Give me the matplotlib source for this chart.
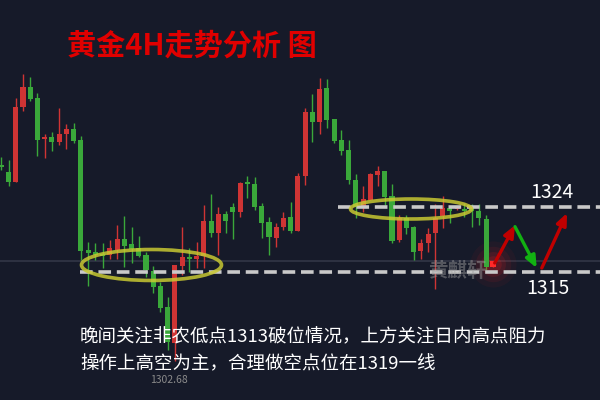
import numpy as np
import matplotlib
matplotlib.use('Agg')
import matplotlib.pyplot as plt
from matplotlib.patches import Ellipse

plt.rcParams['font.family'] = ['Noto Sans CJK SC', 'DejaVu Sans']

# 4H candles (red = up, green = down)
opens = [1329.9, 1328.9, 1327.5, 1338.0, 1340.7, 1339.2, 1333.5, 1333.8, 1333.1, 1334.2,
         1334.9, 1333.4, 1318.1, 1317.8, 1317.5, 1317.4, 1318.1, 1319.6, 1318.9, 1318.3,
         1317.4, 1315.1, 1313.0, 1310.1, 1305.1, 1315.8, 1317.1, 1316.8, 1317.2, 1322.1,
         1320.4, 1323.1, 1324.0, 1323.3, 1327.5, 1327.2, 1324.2, 1321.9, 1319.7, 1321.3,
         1322.6, 1320.7, 1328.4, 1337.2, 1335.9, 1340.6, 1336.3, 1333.4, 1332.0, 1327.8,
         1324.0, 1325.0, 1328.5, 1329.0, 1325.6, 1319.5, 1322.5, 1321.3, 1317.9, 1319.0,
         1320.4, 1322.8, 1323.9, 1323.8, 1323.7, 1323.9, 1323.5, 1322.4, 1315.7]
closes = [1329.6, 1327.5, 1338.0, 1340.7, 1339.1, 1333.4, 1333.8, 1333.1, 1334.2, 1334.9,
          1333.2, 1317.9, 1317.6, 1317.4, 1317.2, 1318.3, 1319.6, 1318.6, 1318.2, 1317.2,
          1315.3, 1312.9, 1310.0, 1305.3, 1316.0, 1317.1, 1316.8, 1317.2, 1322.1, 1320.4,
          1323.1, 1322.1, 1323.3, 1327.4, 1327.2, 1324.0, 1321.8, 1319.9, 1321.3, 1322.5,
          1320.7, 1328.4, 1337.2, 1335.9, 1340.4, 1336.1, 1333.2, 1331.8, 1327.8, 1324.0,
          1325.2, 1328.6, 1329.0, 1325.4, 1319.3, 1322.5, 1321.1, 1317.8, 1319.0, 1320.3,
          1322.5, 1323.9, 1323.5, 1323.9, 1323.5, 1323.5, 1322.5, 1315.7, 1316.5]
highs = [1331.0, 1330.6, 1339.2, 1342.5, 1342.1, 1339.9, 1334.2, 1334.5, 1337.8, 1335.6,
         1335.7, 1333.9, 1319.2, 1319.0, 1319.0, 1319.5, 1321.5, 1322.8, 1321.3, 1320.0,
         1317.8, 1315.8, 1313.6, 1311.5, 1316.0, 1321.3, 1318.3, 1319.2, 1324.3, 1325.8,
         1324.0, 1323.5, 1324.6, 1327.5, 1328.4, 1328.2, 1324.6, 1322.6, 1321.8, 1323.3,
         1324.7, 1328.8, 1337.8, 1339.8, 1342.0, 1341.8, 1336.3, 1334.7, 1333.4, 1328.6,
         1326.9, 1328.8, 1329.7, 1329.0, 1327.2, 1322.9, 1322.9, 1321.4, 1319.6, 1321.1,
         1324.5, 1325.6, 1324.0, 1324.0, 1324.6, 1324.5, 1324.5, 1322.9, 1316.5]
lows = [1329.2, 1326.9, 1327.5, 1337.4, 1338.8, 1331.1, 1330.9, 1331.8, 1332.7, 1332.1,
        1332.9, 1316.7, 1313.0, 1316.7, 1315.6, 1316.8, 1316.8, 1315.7, 1316.2, 1317.1,
        1314.3, 1312.1, 1309.4, 1304.2, 1302.68, 1314.6, 1315.0, 1315.6, 1315.6, 1319.9,
        1317.4, 1320.4, 1319.6, 1322.6, 1325.3, 1323.6, 1319.7, 1317.4, 1318.5, 1320.8,
        1320.4, 1320.7, 1327.1, 1333.1, 1334.2, 1335.0, 1332.9, 1331.3, 1327.2, 1322.5,
        1323.3, 1325.0, 1326.9, 1324.3, 1319.0, 1319.2, 1320.3, 1316.7, 1316.8, 1317.8,
        1312.6, 1321.1, 1321.8, 1323.6, 1322.6, 1321.3, 1321.5, 1315.3, 1315.7]

levels = [1324, 1315]       # resistance / support
low_mark = 1302.68

title = '黄金4H走势分析 图'
line1 = '晚间关注非农低点1313破位情况，上方关注日内高点阻力'
line2 = '操作上高空为主，合理做空点位在1319一线'

bg = '#161a29'
red = '#cf3434'
green = '#3aa83a'

o = np.array(opens); c = np.array(closes)
h = np.array(highs); l = np.array(lows)
x = np.arange(len(o))
up = c >= o
cols = np.where(up, red, green)
bottom = np.minimum(o, c)
height = np.maximum(np.abs(c - o), 0.22)

fig = plt.figure(figsize=(6, 4), dpi=100, facecolor=bg)
ax = fig.add_axes([0, 0, 1, 1])
ax.set_facecolor(bg)
ax.set_xlim(-0.18, 82.75)
ax.set_ylim(1297.19, 1352.83)
ax.axis('off')

# current price line
ax.axhline(c[-1], color='#323646', lw=1.2, zorder=1)

ax.vlines(x, l, h, colors=cols, lw=1.0, zorder=2)
ax.bar(x[:-1], height[:-1], 0.7, bottom=bottom[:-1], color=cols[:-1], zorder=3)

# glowing last candle
for s, a in [(1100, 0.05), (650, 0.08), (320, 0.12), (140, 0.15)]:
    ax.scatter(x[-1], (o[-1] + c[-1]) / 2, s=s, color='#ff2020', alpha=a, lw=0, zorder=2)
ax.bar(x[-1], height[-1], 0.85, bottom=bottom[-1], color='#ff2a2a', zorder=3)

# support / resistance dashed lines
ax.hlines(levels[0], 46.5, 83, colors='#c9c9c9', lw=2.6, linestyles=(0, (3.5, 1.6)), zorder=4)
ax.hlines(levels[1], 10.9, 83, colors='#c9c9c9', lw=2.6, linestyles=(0, (3.5, 1.6)), zorder=4)

# highlight ellipses
ax.add_patch(Ellipse((20.76, 1315.97), 19.35, 4.31, fill=False, ec='#c8c832', lw=2.6, alpha=0.85, zorder=5))
ax.add_patch(Ellipse((56.63, 1323.76), 16.72, 2.78, fill=False, ec='#c8c832', lw=2.6, alpha=0.85, zorder=5))

# expected path arrows
arr = dict(arrowstyle='-|>,head_length=0.7,head_width=0.3', lw=2.4, shrinkA=0, shrinkB=0)
ax.annotate('', xy=(71.0, 1321.5), xytext=(68.2, 1316.25), arrowprops=dict(color='#c00000', **arr), zorder=6)
ax.annotate('', xy=(74.0, 1315.55), xytext=(71.0, 1321.3), arrowprops=dict(color='#12b012', **arr), zorder=6)
ax.annotate('', xy=(78.2, 1323.2), xytext=(74.7, 1315.55), arrowprops=dict(color='#c00000', **arr), zorder=6)

ax.text(20.55, 1300.0, f'{low_mark:.2f}', color='#8a8a8a', fontsize=7.5, va='center', ha='left')

fig.text(67 / 600, 1 - 46 / 400, title, color='#e00000', fontsize=21, fontweight='bold',
         va='center', ha='left')
fig.text(530 / 600, 1 - 193 / 400, str(levels[0]), color='white', fontsize=14, va='center', ha='left')
fig.text(526 / 600, 1 - 288 / 400, str(levels[1]), color='white', fontsize=14, va='center', ha='left')
fig.text(428 / 600, 1 - 271 / 400, '黄麒轩', color='#a0a0a0', alpha=0.45, fontsize=14,
         fontweight='bold', va='center', ha='left')
fig.text(80 / 600, 1 - 337 / 400, line1, color='white', fontsize=13.3, va='center', ha='left')
fig.text(80 / 600, 1 - 364 / 400, line2, color='white', fontsize=13.3, va='center', ha='left')

fig.savefig('out.png', dpi=100, facecolor=bg)
